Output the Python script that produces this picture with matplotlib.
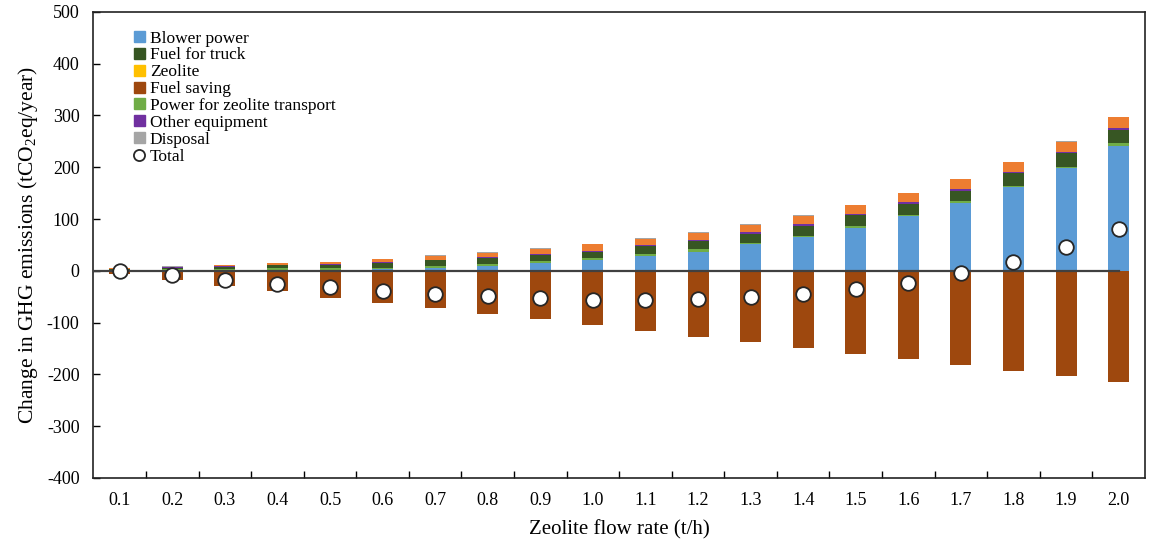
import matplotlib.pyplot as plt
import numpy as np
from matplotlib.patches import Patch
from matplotlib.lines import Line2D

plt.rcParams['font.family'] = ['Liberation Serif', 'DejaVu Serif']
plt.rcParams['mathtext.fontset'] = 'custom'
plt.rcParams['mathtext.rm'] = 'Liberation Serif'
plt.rcParams['mathtext.it'] = 'Liberation Serif:italic'
plt.rcParams['axes.unicode_minus'] = False

flow_rates = ["0.1", "0.2", "0.3", "0.4", "0.5", "0.6", "0.7", "0.8", "0.9", "1.0",
              "1.1", "1.2", "1.3", "1.4", "1.5", "1.6", "1.7", "1.8", "1.9", "2.0"]

blower = [0, 0.5, 1, 1.5, 2, 3, 6, 10, 15, 21, 28, 37, 51, 65, 83, 105, 130, 161, 198, 242]
zeolite_transport = [1, 2, 3, 3, 3, 3, 4, 4, 3, 3, 4, 5, 3, 3, 4, 3, 4, 3, 3, 4]
fuel_truck = [2, 3, 4, 6, 7, 9, 10, 11, 12, 13, 16, 16, 18, 19, 20, 21, 21, 24, 26, 26]
other_equip = [1, 1, 1, 1, 1, 1, 1, 1, 3, 2, 1.5, 2, 2, 3, 2, 3, 3, 3, 3, 3]
zeolite = [1, 1.5, 2, 3, 4, 6, 8, 9, 10, 12, 12, 13, 15, 16, 18, 18, 19, 19, 19, 22]
disposal = [0.5, 0.5, 0.5, 0.5, 0.5, 1, 1, 1, 1, 1, 1, 1, 1, 1, 1, 1, 1, 1, 1, 1]
fuel_saving = [-6, -17, -29, -40, -52, -62, -72, -83, -94, -105,
               -116, -127, -138, -149, -160, -171, -182, -193, -204, -215]
total = [-1, -8, -17, -26, -32, -40, -45, -49, -53, -56,
         -56, -54, -50, -45, -36, -24, -5, 16, 45, 81]

fig = plt.figure(figsize=(11.6, 5.43), dpi=100)
ax = fig.add_axes([0.0806, 0.12, 0.9064, 0.858])

x = np.arange(len(flow_rates))
w = 0.4

# positive stack, bottom to top
layers = [
    (blower, "#5B9BD5"),
    (zeolite_transport, "#70AD47"),
    (fuel_truck, "#375623"),
    (other_equip, "#7030A0"),
    (zeolite, "#ED7D31"),
    (disposal, "#A5A5A5"),
]
bottom = np.zeros(len(x))
for vals, col in layers:
    ax.bar(x, vals, w, bottom=bottom, color=col, zorder=2)
    bottom += np.array(vals)

ax.bar(x, fuel_saving, w, color="#9E480E", zorder=2)

ax.plot([-0.5, x[-1]], [0, 0], color="#404040", lw=1.6, zorder=3)
ax.plot(x, total, "o", ms=10.5, mfc="white", mec="#262626", mew=1.3, zorder=4)

ax.set_xlim(-0.5, len(x) - 0.5)
ax.set_ylim(-400, 500)
ax.set_yticks(range(-400, 501, 100))
ax.set_xticks(x)
ax.set_xticklabels(flow_rates)
ax.set_xticks(np.arange(0.5, len(x) - 0.5, 1), minor=True)
ax.tick_params(axis="x", which="major", length=0, pad=10, labelsize=13)
ax.tick_params(axis="x", which="minor", direction="in", length=5, width=1)
ax.tick_params(axis="y", direction="in", length=5, width=1, labelsize=13, pad=10)
for s in ax.spines.values():
    s.set_linewidth(1.2)
    s.set_color("#222222")

ax.set_xlabel("Zeolite flow rate (t/h)", fontsize=15, labelpad=8)
ax.set_ylabel("Change in GHG emissions (tCO$_2$eq/year)", fontsize=15.5, labelpad=5)

handles = [
    Patch(color="#5B9BD5", label="Blower power"),
    Patch(color="#375623", label="Fuel for truck"),
    Patch(color="#FFC000", label="Zeolite"),
    Patch(color="#9E480E", label="Fuel saving"),
    Patch(color="#70AD47", label="Power for zeolite transport"),
    Patch(color="#7030A0", label="Other equipment"),
    Patch(color="#A5A5A5", label="Disposal"),
    Line2D([], [], marker="o", ls="none", ms=8, mfc="white", mec="#262626", mew=1.3, label="Total"),
]
ax.legend(handles=handles, loc="upper left", bbox_to_anchor=(0.032, 0.975), frameon=False,
          fontsize=12.5, handlelength=0.6, handleheight=0.6, handletextpad=0.3,
          labelspacing=0.05, borderaxespad=0)

fig.savefig("out.png", dpi=100)
